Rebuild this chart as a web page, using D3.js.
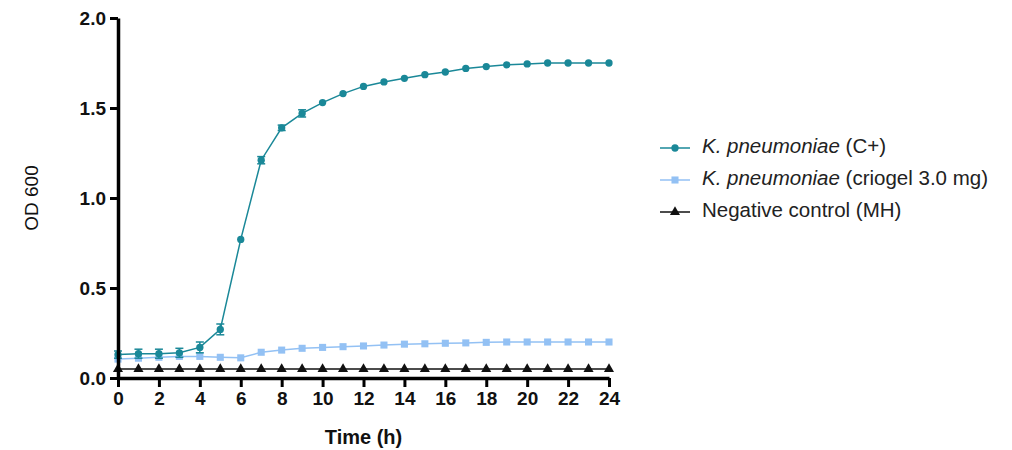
<!DOCTYPE html>
<html>
<head>
<meta charset="utf-8">
<script src="https://cdn.jsdelivr.net/npm/d3@7"></script>
<style>
  body { margin: 0; background: #fff; }
  text { font-family: "Liberation Sans", Arial, sans-serif; }
</style>
</head>
<body>
<div class="graph"><svg id="chart"></svg></div>
<script>
// time points (h)
const hours = d3.range(0, 25)

// OD 600 readings
const positiveCtrl = [0.13, 0.135, 0.135, 0.14, 0.17, 0.27, 0.77, 1.21, 1.39, 1.47, 1.53, 1.58, 1.62, 1.645, 1.665, 1.685, 1.70, 1.72, 1.73, 1.74, 1.745, 1.75, 1.75, 1.75, 1.75]
const positiveErr = [0.02, 0.025, 0.025, 0.025, 0.03, 0.03, 0.01, 0.02, 0.015, 0.02, 0.01, 0.01, 0.01, 0.01, 0.01, 0.01, 0.01, 0.01, 0.01, 0.01, 0.01, 0.01, 0.01, 0.01, 0.01]
const criogel = [0.105, 0.11, 0.115, 0.12, 0.12, 0.115, 0.112, 0.143, 0.155, 0.165, 0.17, 0.174, 0.178, 0.183, 0.188, 0.19, 0.193, 0.195, 0.198, 0.2, 0.2, 0.2, 0.2, 0.2, 0.2]
const negCtrl = [0.05, 0.05, 0.05, 0.05, 0.05, 0.05, 0.05, 0.05, 0.05, 0.05, 0.05, 0.05, 0.05, 0.05, 0.05, 0.05, 0.05, 0.05, 0.05, 0.05, 0.05, 0.05, 0.05, 0.05, 0.05]

const xTicks = d3.range(0, 25, 2)
const yTicks = [0, 0.5, 1.0, 1.5, 2.0]

const margin = { top: 18, left: 118 }
const graphSize = { width: 491, height: 360 }

const svg = d3.select('#chart').attr('width', 1012).attr('height', 450)
const g = svg.append('g')
  .attr('transform', 'translate(' + margin.left + ',' + margin.top + ')')

const x = d3.scaleLinear().domain([0, 24]).range([0, graphSize.width])
const y = d3.scaleLinear().domain([0, 2]).range([graphSize.height, 0])

const series = [
  { name: 'pos', label: ['K. pneumoniae', ' (C+)'], values: positiveCtrl, err: positiveErr, color: '#1a8898', shape: d3.symbolCircle, size: 42 },
  { name: 'cri', label: ['K. pneumoniae', ' (criogel 3.0 mg)'], values: criogel, err: null, color: '#93c1f4', shape: d3.symbolSquare, size: 50 },
  { name: 'neg', label: [null, 'Negative control (MH)'], values: negCtrl, err: null, color: '#111111', shape: d3.symbolTriangle, size: 44 }
]

const line = d3.line()
  .x(d => x(d.t))
  .y(d => y(d.v))

// back to front: negative, criogel, positive
series.slice().reverse().forEach(s => {
  const pts = hours.map((t, i) => ({ t: t, v: s.values[i], e: s.err ? s.err[i] : 0 }))
  const sg = g.append('g').attr('class', 'series-' + s.name)

  sg.append('path')
    .datum(pts)
    .attr('fill', 'none')
    .attr('stroke', s.color)
    .attr('stroke-width', 1.5)
    .attr('d', line)

  if (s.err) {
    const eb = sg.selectAll('.err').data(pts.filter(d => d.e > 0.012)).enter().append('g')
    eb.append('line')
      .attr('x1', d => x(d.t)).attr('x2', d => x(d.t))
      .attr('y1', d => y(d.v - d.e)).attr('y2', d => y(d.v + d.e))
      .attr('stroke', s.color).attr('stroke-width', 1.5)
    ;[1, -1].forEach(sign => {
      eb.append('line')
        .attr('x1', d => x(d.t) - 4).attr('x2', d => x(d.t) + 4)
        .attr('y1', d => y(d.v + sign * d.e)).attr('y2', d => y(d.v + sign * d.e))
        .attr('stroke', s.color).attr('stroke-width', 1.5)
    })
  }

  sg.selectAll('.pt').data(pts).enter().append('path')
    .attr('transform', d => 'translate(' + x(d.t) + ',' + y(d.v) + ')')
    .attr('d', d3.symbol().type(s.shape).size(s.size))
    .attr('fill', s.color)
})

// axes
const xAxis = g.append('g')
  .attr('class', 'x-axis')
  .attr('transform', 'translate(0,' + graphSize.height + ')')
  .call(d3.axisBottom(x).tickValues(xTicks).tickFormat(d3.format('d')).tickSize(9).tickSizeOuter(0).tickPadding(5))

const yAxis = g.append('g')
  .attr('class', 'y-axis')
  .call(d3.axisLeft(y).tickValues(yTicks).tickFormat(d3.format('.1f')).tickSize(8).tickSizeOuter(0).tickPadding(4))

;[xAxis, yAxis].forEach(ax => {
  ax.select('.domain').attr('stroke', '#000').attr('stroke-width', 3.5)
  ax.selectAll('.tick line').attr('stroke', '#000').attr('stroke-width', 3)
  ax.selectAll('.tick text')
    .attr('fill', '#111')
    .style('font-size', '19px')
    .style('font-weight', 'bold')
})

g.append('text')
  .attr('x', graphSize.width / 2)
  .attr('y', graphSize.height + 66)
  .attr('text-anchor', 'middle')
  .style('font-size', '20px')
  .style('font-weight', 'bold')
  .attr('fill', '#111')
  .text('Time (h)')

g.append('text')
  .attr('transform', 'translate(' + (-85) + ',' + (graphSize.height / 2) + ') rotate(-90)')
  .attr('text-anchor', 'middle')
  .attr('dominant-baseline', 'middle')
  .style('font-size', '19px')
  .attr('fill', '#111')
  .text('OD 600')

// legend
const legend = svg.append('g').attr('transform', 'translate(660,148)')
series.forEach((s, i) => {
  const row = legend.append('g').attr('transform', 'translate(0,' + (i * 32) + ')')
  row.append('line')
    .attr('x1', 0).attr('x2', 30)
    .attr('stroke', s.color).attr('stroke-width', 1.5)
  row.append('path')
    .attr('transform', 'translate(15,0)')
    .attr('d', d3.symbol().type(s.shape).size(s.size))
    .attr('fill', s.color)
  const txt = row.append('text')
    .attr('x', 42)
    .attr('dominant-baseline', 'middle')
    .style('font-size', '20.5px')
    .attr('fill', '#222')
  if (s.label[0]) {
    txt.append('tspan').style('font-style', 'italic').text(s.label[0])
  }
  txt.append('tspan').text(s.label[1])
})
</script>
</body>
</html>
